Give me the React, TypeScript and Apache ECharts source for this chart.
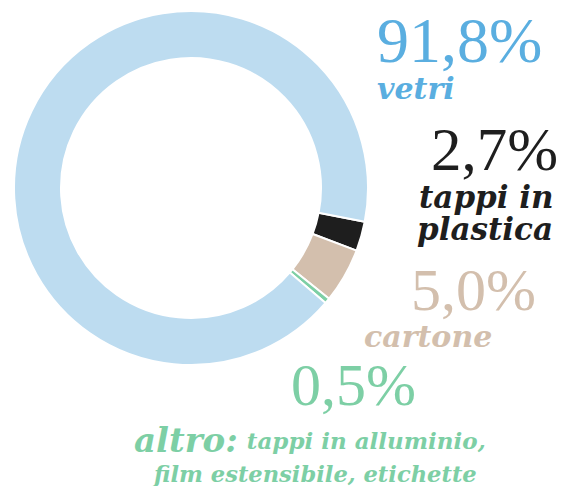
import React, { useEffect, useRef } from "react";
import * as echarts from "echarts";

const names = ["tappi in plastica", "cartone", "altro", "vetri"];
const values = [2.7, 5.0, 0.5, 91.8];
const sliceColors = ["#1e1e1e", "#d3bfad", "#7dcfa5", "#bddcf0"];
const textColors = ["#1e1e1e", "#d3bfad", "#7dcfa5", "#5aaee0"];

const fmt = (v: number) => v.toFixed(1).replace(".", ",") + "%";

const NUM_FONT = "Liberation Serif";
const LAB_FONT = "DejaVu Serif";

export default function App() {
  const ref = useRef<HTMLDivElement>(null);
  useEffect(() => {
    if (!ref.current) return;
    const chart = echarts.init(ref.current, undefined, { renderer: "svg" });
    const num = (i: number, x: number, y: number, size: number) => ({
      type: "text",
      x,
      y,
      style: {
        text: fmt(values[i]),
        fill: textColors[i],
        font: `normal ${size}px "${NUM_FONT}"`,
        lineHeight: size * 0.8,
        textAlign: "left",
        textVerticalAlign: "bottom",
      },
    });
    const lab = (text: string, color: string, x: number, y: number, size: number) => ({
      type: "text",
      x,
      y,
      style: {
        text,
        fill: color,
        font: `italic bold ${size}px "${LAB_FONT}"`,
        lineHeight: size * 0.9,
        textAlign: "left",
        textVerticalAlign: "bottom",
      },
    });
    chart.setOption({
      animation: false,
      series: [
        {
          type: "pie",
          center: [191, 188],
          radius: [130, 177],
          startAngle: -11,
          clockwise: true,
          label: { show: false },
          labelLine: { show: false },
          silent: true,
          itemStyle: { borderColor: "#ffffff", borderWidth: 2 },
          data: names.map((n, i) => ({
            name: n,
            value: values[i],
            itemStyle: { color: sliceColors[i] },
          })),
        },
      ],
      graphic: [
        num(3, 377, 66, 64),
        lab("vetri", textColors[3], 377, 102, 30),
        num(0, 431, 174, 61),
        lab("tappi in", textColors[0], 419, 211, 31),
        lab("plastica", textColors[0], 417, 243, 31),
        num(1, 411, 314, 60),
        lab("cartone", textColors[1], 364, 350, 30),
        num(2, 291, 409, 60),
        {
          type: "text",
          x: 134,
          y: 456,
          style: {
            text: "{a|altro:}{b|tappi in alluminio,}",
            fill: textColors[2],
            textAlign: "left",
            textVerticalAlign: "bottom",
            rich: {
              a: { font: `italic bold 34px "${LAB_FONT}"`, fill: textColors[2], lineHeight: 32 },
              b: {
                font: `italic bold 23px "${LAB_FONT}"`,
                fill: textColors[2],
                lineHeight: 32,
                padding: [0, 0, 0, 9],
              },
            },
          },
        },
        lab("film estensibile, etichette", textColors[2], 154, 484, 22.6),
      ],
    });
    return () => chart.dispose();
  }, []);
  return (
    <div
      ref={ref}
      style={{ position: "fixed", left: 0, top: 0, width: 577, height: 486, background: "#fff" }}
    />
  );
}
